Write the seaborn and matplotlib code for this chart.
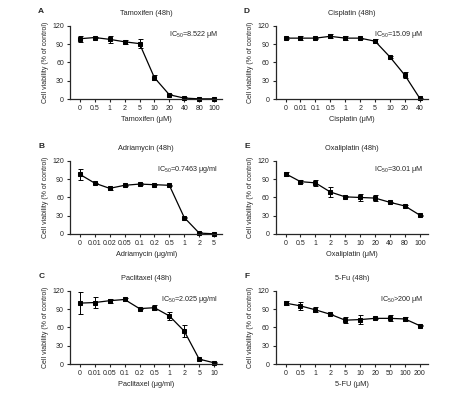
import numpy as np
import pandas as pd
import seaborn as sns
import matplotlib
matplotlib.use("Agg")
import matplotlib.pyplot as plt

# dose labels (categorical x axes)
tam_doses = ["0", "0.5", "1", "2", "5", "10", "20", "40", "80", "100"]
cis_doses = ["0", "0.01", "0.1", "0.5", "1", "2", "5", "10", "20", "40"]
adr_doses = ["0", "0.01", "0.02", "0.05", "0.1", "0.2", "0.5", "1", "2", "5"]
oxa_doses = ["0", "0.5", "1", "2", "5", "10", "20", "40", "80", "100"]
pac_doses = ["0", "0.01", "0.05", "0.1", "0.2", "0.5", "1", "2", "5", "10"]
fu_doses = ["0", "0.5", "1", "2", "5", "10", "20", "50", "100", "200"]

# cell viability (% of control) and error bars
tam_vals = [99, 101, 98, 94, 91, 35, 7, 1.5, 0.3, 0.3]
tam_err = [5, 1, 6, 3, 7, 4, 1, 1, 0.5, 0.5]
cis_vals = [100, 100, 100, 103, 100, 100, 95, 69, 39, 1]
cis_err = [2, 3, 1, 3, 3, 1, 3, 1, 5, 1]
adr_vals = [98, 83.5, 75, 80, 82, 81, 80, 27, 1.5, 0.3]
adr_err = [9, 1, 3, 1, 1, 1, 1, 1, 1, 0.3]
oxa_vals = [99, 86, 84, 69, 61, 60, 59, 52, 46, 31]
oxa_err = [3, 2, 5, 8, 1, 6, 5, 1, 2, 1]
pac_vals = [100, 101, 104, 106, 91, 92.5, 79, 54, 8, 2]
pac_err = [18, 9, 3, 2, 1, 4, 7, 10, 1, 1]
fu_vals = [100, 95.5, 89, 81.7, 72, 73, 75, 75, 74, 63]
fu_err = [3, 7, 4, 1, 5, 7, 1, 5, 3, 1]

panels = [
    ("A", "Tamoxifen (48h)", "Tamoxifen (μM)", "IC$_{50}$=8.522 μM", tam_doses, tam_vals, tam_err),
    ("D", "Cisplatin (48h)", "Cisplatin (μM)", "IC$_{50}$=15.09 μM", cis_doses, cis_vals, cis_err),
    ("B", "Adriamycin (48h)", "Adriamycin (μg/ml)", "IC$_{50}$=0.7463 μg/ml", adr_doses, adr_vals, adr_err),
    ("E", "Oxaliplatin (48h)", "Oxaliplatin (μM)", "IC$_{50}$=30.01 μM", oxa_doses, oxa_vals, oxa_err),
    ("C", "Paclitaxel (48h)", "Paclitaxel (μg/ml)", "IC$_{50}$=2.025 μg/ml", pac_doses, pac_vals, pac_err),
    ("F", "5-Fu (48h)", "5-FU (μM)", "IC$_{50}$>200 μM", fu_doses, fu_vals, fu_err),
]

sns.set_style("ticks")
plt.rcParams["font.family"] = ["Liberation Sans", "DejaVu Sans"]
plt.rcParams["mathtext.fontset"] = "custom"
plt.rcParams["mathtext.rm"] = "Liberation Sans"

fig = plt.figure(figsize=(4.74, 3.97), dpi=100)

lefts = [0.148, 0.582]
bottoms = [0.7506, 0.4106, 0.0831]
w, h = 0.321, 0.184

for i, (letter, title, xlabel, ic50, doses, vals, err) in enumerate(panels):
    row, col = i // 2, i % 2
    ax = fig.add_axes([lefts[col], bottoms[row], w, h])
    df = pd.DataFrame({"pos": np.arange(len(doses)), "val": vals})
    sns.lineplot(data=df, x="pos", y="val", ax=ax, color="black", lw=0.9,
                 marker="s", markersize=2.8, markeredgecolor="black", clip_on=False)
    ax.errorbar(df["pos"], df["val"], yerr=err, fmt="none", ecolor="black",
                elinewidth=0.7, capsize=1.8, capthick=0.7, clip_on=False)
    ax.set_xlim(-0.65, len(doses) - 0.45)
    ax.set_ylim(0, 120)
    ax.set_yticks([0, 30, 60, 90, 120])
    ax.set_xticks(df["pos"])
    ax.set_xticklabels(doses)
    ax.tick_params(labelsize=5, length=2.5, width=0.8, pad=2)
    ax.set_xlabel(xlabel, fontsize=5.3, labelpad=3)
    ax.set_ylabel("Cell viability (% of control)", fontsize=5, labelpad=2.5)
    ax.set_title(title, fontsize=5.3, pad=8)
    for s in ["left", "bottom"]:
        ax.spines[s].set_linewidth(0.9)
    sns.despine(ax=ax)
    ax.text(0.97, 0.88, ic50, transform=ax.transAxes, ha="right", va="center", fontsize=5.2)
    ax.text(-0.19, 1.2, letter, transform=ax.transAxes, ha="center", va="center",
            fontsize=6, fontweight="bold")

fig.savefig("out.png", dpi=100)
